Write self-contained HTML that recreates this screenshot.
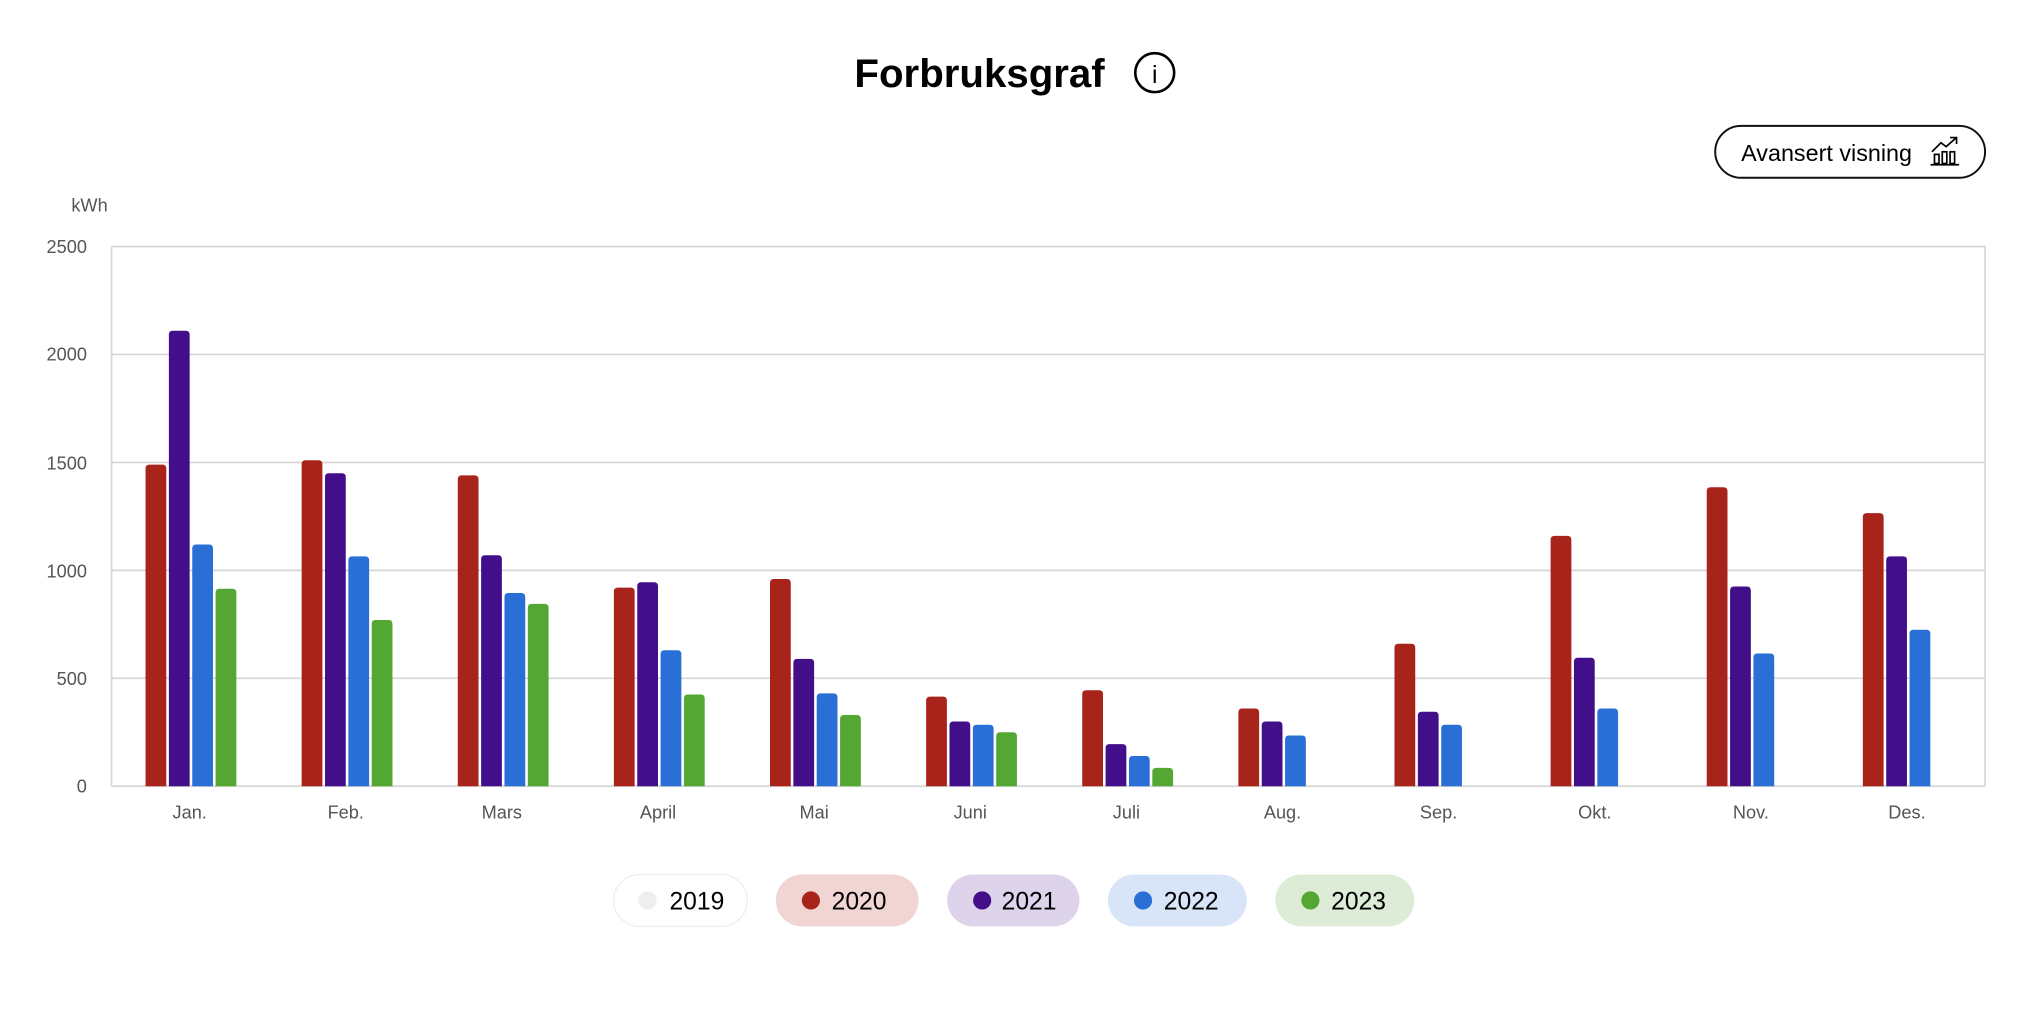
<!DOCTYPE html>
<html><head><meta charset="utf-8"><style>
html,body{margin:0;padding:0;background:#fff;width:2024px;height:1025px;overflow:hidden}
svg{display:block}
text{font-family:"Liberation Sans",sans-serif}
</style></head><body>
<svg id="s" width="2024" height="1025" viewBox="0 0 1560 790" preserveAspectRatio="none">
<text x="755" y="67" text-anchor="middle" font-size="31" font-weight="bold" fill="#000">Forbruksgraf</text>
<circle cx="890" cy="56" r="15" fill="none" stroke="#000" stroke-width="2"/>
<text x="890" y="64" text-anchor="middle" font-size="19" fill="#000" font-family="Liberation Serif">i</text>
<rect x="1322" y="97" width="208" height="40" rx="20" fill="#fff" stroke="#111" stroke-width="1.5"/>
<text x="1342" y="124" font-size="18" fill="#000">Avansert visning</text>
<g stroke="#000" stroke-width="1.3" fill="none">
<path d="M1489 117 l7-7 4 3 8-7 M1503 106 h5 v5"/>
<rect x="1491" y="119" width="3.5" height="7"/><rect x="1497" y="117" width="3.5" height="9"/><rect x="1503" y="117" width="3.5" height="9"/>
<path d="M1488 127 h22"/>
</g>
<text x="55" y="163" font-size="14" fill="#555">kWh</text>
<g stroke="#d6d6d6" stroke-width="1.3">
<line x1="86" y1="190" x2="1530" y2="190"/><line x1="86" y1="273.2" x2="1530" y2="273.2"/>
<line x1="86" y1="356.4" x2="1530" y2="356.4"/><line x1="86" y1="439.6" x2="1530" y2="439.6"/>
<line x1="86" y1="522.8" x2="1530" y2="522.8"/><line x1="86" y1="606" x2="1530" y2="606"/>
<line x1="86" y1="190" x2="86" y2="606"/><line x1="1530" y1="190" x2="1530" y2="606"/>
</g>
<g font-size="14" fill="#555" text-anchor="end">
<text x="67" y="195">2500</text><text x="67" y="278">2000</text><text x="67" y="362">1500</text>
<text x="67" y="445">1000</text><text x="67" y="528">500</text><text x="67" y="611">0</text>
</g>
<g id="bars"></g>
<g font-size="14" fill="#555" text-anchor="middle">
<text x="146.2" y="631">Jan.</text><text x="266.5" y="631">Feb.</text><text x="386.8" y="631">Mars</text>
<text x="507.2" y="631">April</text><text x="627.5" y="631">Mai</text><text x="747.8" y="631">Juni</text>
<text x="868.2" y="631">Juli</text><text x="988.5" y="631">Aug.</text><text x="1108.8" y="631">Sep.</text>
<text x="1229.2" y="631">Okt.</text><text x="1349.5" y="631">Nov.</text><text x="1469.8" y="631">Des.</text>
</g>
<g font-size="19" fill="#000">
<rect x="473" y="674" width="103" height="40" rx="20" fill="#fff" stroke="#eee"/>
<circle cx="499" cy="694" r="7" fill="#eee"/><text x="516" y="701">2019</text>
<rect x="598" y="674" width="110" height="40" rx="20" fill="#f0d5d3"/>
<circle cx="625" cy="694" r="7" fill="#a8231a"/><text x="641" y="701">2020</text>
<rect x="730" y="674" width="102" height="40" rx="20" fill="#ddd3ea"/>
<circle cx="757" cy="694" r="7" fill="#420e8a"/><text x="772" y="701">2021</text>
<rect x="854" y="674" width="107" height="40" rx="20" fill="#d8e4f7"/>
<circle cx="881" cy="694" r="7" fill="#2a6fd6"/><text x="897" y="701">2022</text>
<rect x="983" y="674" width="107" height="40" rx="20" fill="#dcecd6"/>
<circle cx="1010" cy="694" r="7" fill="#53a732"/><text x="1026" y="701">2023</text>
</g>
</svg>
<script>
var d=[[1490,2110,1120,915],[1510,1450,1065,770],[1440,1070,895,845],[920,945,630,425],[960,590,430,330],[415,300,285,250],[445,195,140,85],[360,300,235,0],[660,345,285,0],[1160,595,360,0],[1385,925,615,0],[1265,1065,725,0]];
var c=["#a8231a","#420e8a","#2a6fd6","#53a732"],h="";
d.forEach(function(m,i){var cx=86+120.33*(i+0.5);m.forEach(function(v,k){if(!v)return;var hh=v*416/2500,x=cx-34+18*k,y=606-hh;
h+='<path d="M'+x+' 606 V'+(y+3)+' q0 -3 3 -3 h10 q3 0 3 3 V606 Z" fill="'+c[k]+'"/>';});});
document.getElementById("bars").innerHTML=h;
</script>
</body></html>
